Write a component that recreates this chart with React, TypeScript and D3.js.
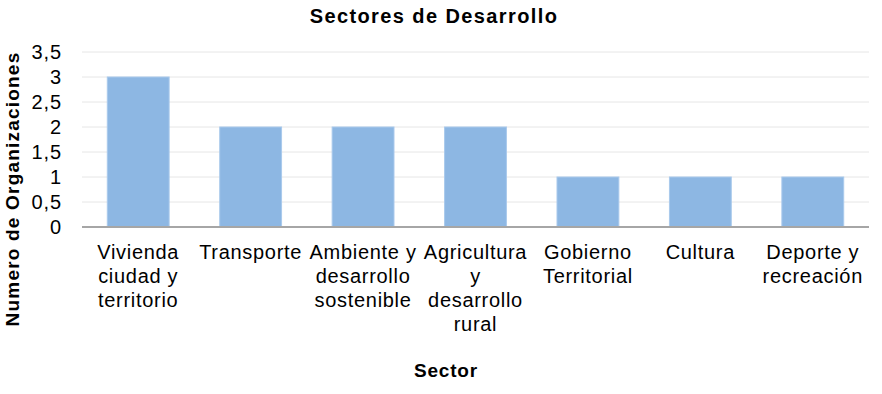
import React, { useRef, useEffect } from 'react';
import * as d3 from 'd3';

const sectors = [
  'Vivienda ciudad y territorio',
  'Transporte',
  'Ambiente y desarrollo sostenible',
  'Agricultura y desarrollo rural',
  'Gobierno Territorial',
  'Cultura',
  'Deporte y recreación',
];
// wrapped label lines, as shown under each bar
const labelLines = [
  ['Vivienda', 'ciudad y', 'territorio'],
  ['Transporte'],
  ['Ambiente y', 'desarrollo', 'sostenible'],
  ['Agricultura', 'y', 'desarrollo', 'rural'],
  ['Gobierno', 'Territorial'],
  ['Cultura'],
  ['Deporte y', 'recreación'],
];
const counts = [3, 2, 2, 2, 1, 1, 1];
const yTicks = [0, 0.5, 1, 1.5, 2, 2.5, 3, 3.5];

const W = 882;
const H = 394;
const FONT = '"Liberation Sans", Arial, sans-serif';

const App = () => {
  const svgRef = useRef<SVGSVGElement | null>(null);

  useEffect(() => {
    const svg = d3.select(svgRef.current);
    svg.selectAll('*').remove();

    const left = 82, right = 869, top = 52, bottom = 227;
    const x = d3.scaleBand().domain(sectors).range([left, right]).paddingInner(0.45).paddingOuter(0.225);
    const y = d3.scaleLinear().domain([0, 3.5]).range([bottom, top]);

    const g = svg.append('g');

    // gridlines
    g.selectAll('.grid').data(yTicks.filter(t => t > 0)).enter().append('line')
      .attr('x1', left).attr('x2', right)
      .attr('y1', d => y(d)).attr('y2', d => y(d))
      .attr('stroke', '#e6e6e6').attr('stroke-width', 1);

    // bars
    g.selectAll('.bar').data(sectors).enter().append('rect')
      .attr('x', d => x(d)!)
      .attr('y', (d, i) => y(counts[i]))
      .attr('width', x.bandwidth())
      .attr('height', (d, i) => y(0) - y(counts[i]))
      .attr('fill', '#8db7e3')
      .attr('stroke', '#a9c9ec').attr('stroke-width', 1);

    // x axis line
    g.append('line').attr('x1', left).attr('x2', right)
      .attr('y1', y(0)).attr('y2', y(0))
      .attr('stroke', '#a6a6a6').attr('stroke-width', 2);

    // y tick labels
    g.selectAll('.ytick').data(yTicks).enter().append('text')
      .attr('x', 62).attr('y', d => y(d)).attr('dy', '0.35em')
      .attr('text-anchor', 'end').attr('font-family', FONT).attr('font-size', 20)
      .attr('letter-spacing', 0.9).attr('fill', '#000')
      .text(d => d3.format('')(d).replace('.', ','));

    // x labels
    sectors.forEach((s, i) => {
      const cx = x(s)! + x.bandwidth() / 2;
      const t = g.append('text')
        .attr('x', cx).attr('y', 259)
        .attr('text-anchor', 'middle').attr('font-family', FONT).attr('font-size', 20)
        .attr('letter-spacing', 0.7).attr('fill', '#000');
      labelLines[i].forEach((line, j) => {
        t.append('tspan').attr('x', cx).attr('dy', j === 0 ? 0 : 24).text(line);
      });
    });

    // title
    svg.append('text').attr('x', 434).attr('y', 23).attr('text-anchor', 'middle')
      .attr('font-family', FONT).attr('font-size', 20).attr('font-weight', 'bold')
      .attr('letter-spacing', 1.4).text('Sectores de Desarrollo');

    // axis titles
    svg.append('text').attr('x', 446).attr('y', 377).attr('text-anchor', 'middle')
      .attr('font-family', FONT).attr('font-size', 19).attr('font-weight', 'bold')
      .attr('letter-spacing', 0.8).text('Sector');
    svg.append('text').attr('transform', 'translate(19,189) rotate(-90)').attr('text-anchor', 'middle')
      .attr('font-family', FONT).attr('font-size', 19).attr('font-weight', 'bold')
      .attr('letter-spacing', 1.2).text('Numero de Organizaciones');
  }, []);

  return (
    <div style={{ position: 'absolute', left: 0, top: 0 }}>
      <svg ref={svgRef} width={W} height={H} style={{ display: 'block', background: '#fff' }} />
    </div>
  );
};

export default App;
